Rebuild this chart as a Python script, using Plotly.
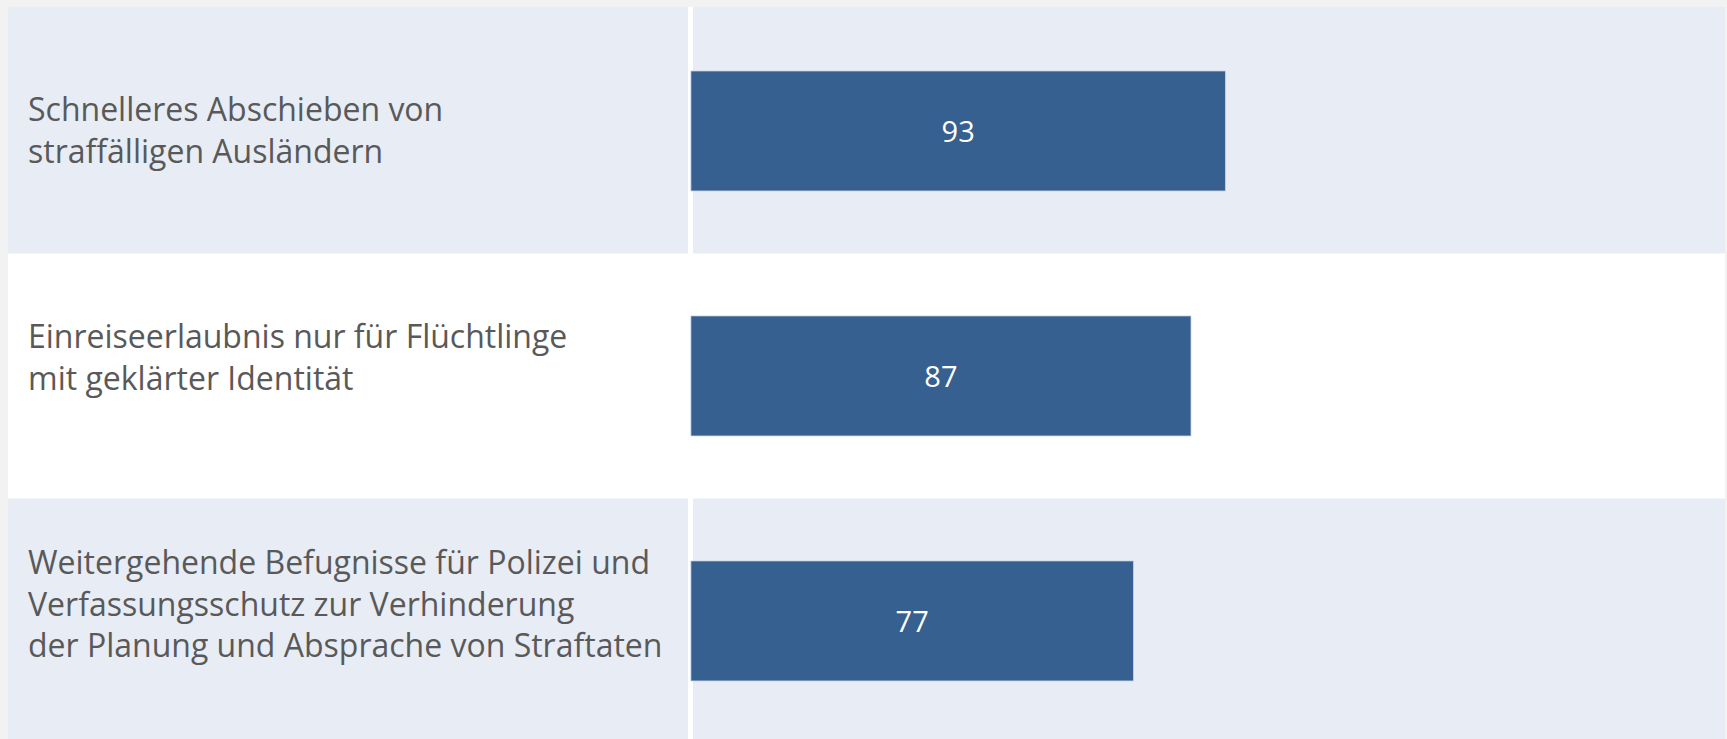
import plotly.graph_objects as go

# data
categories = [
    "Schnelleres Abschieben von<br>straffälligen Ausländern",
    "Einreiseerlaubnis nur für Flüchtlinge<br>mit geklärter Identität",
    "Weitergehende Befugnisse für Polizei und<br>Verfassungsschutz zur Verhinderung<br>der Planung und Absprache von Straftaten",
]
values = [93, 87, 77]

BAR_COLOR = "#36608F"
BAND_COLOR = "#E7ECF5"
TEXT_COLOR = "#595959"
FONT = "Open Sans"
# small vertical nudges of the row labels (pixels, upwards)
LABEL_YSHIFT = [1, 19, 18]

fig = go.Figure()

fig.add_trace(
    go.Bar(
        x=values,
        y=categories,
        orientation="h",
        width=0.49,
        marker=dict(color=BAR_COLOR, line=dict(color="#C9D6E8", width=0.8)),
        text=values,
        texttemplate="%{text}",
        textposition="inside",
        insidetextanchor="middle",
        textangle=0,
        textfont=dict(family=FONT, size=29, color="white"),
        hoverinfo="skip",
    )
)

# white middle row
for i, cat in enumerate(categories):
    if i % 2 == 1:
        fig.add_hrect(y0=i - 0.5, y1=i + 0.5, fillcolor="white", line_width=0, layer="below")

# row labels on the left side of the plot area
for cat, shift in zip(categories, LABEL_YSHIFT):
    fig.add_annotation(
        x=0, xref="paper", xanchor="left", xshift=18,
        y=cat, yref="y", yshift=shift,
        text=cat, align="left", showarrow=False,
        font=dict(family=FONT, size=32, color=TEXT_COLOR),
    )

fig.update_layout(
    width=1727,
    height=739,
    margin=dict(l=8, r=2, t=7, b=0, pad=0),
    paper_bgcolor="#F2F2F2",
    plot_bgcolor=BAND_COLOR,
    showlegend=False,
    font=dict(family=FONT, color=TEXT_COLOR),
    xaxis=dict(
        range=[-118.8, 179.9],
        showgrid=False,
        showticklabels=False,
        ticks="",
        zeroline=True,
        zerolinecolor="white",
        zerolinewidth=5,
        fixedrange=True,
    ),
    yaxis=dict(
        range=[2.482, -0.506],
        showgrid=False,
        showticklabels=False,
        ticks="",
        zeroline=False,
        fixedrange=True,
    ),
)

# the page's default body margin would push the fixed-size figure off screen
fig.write_html(
    "out.html",
    config={"displayModeBar": False},
    post_script="document.body.style.margin='0';",
)
